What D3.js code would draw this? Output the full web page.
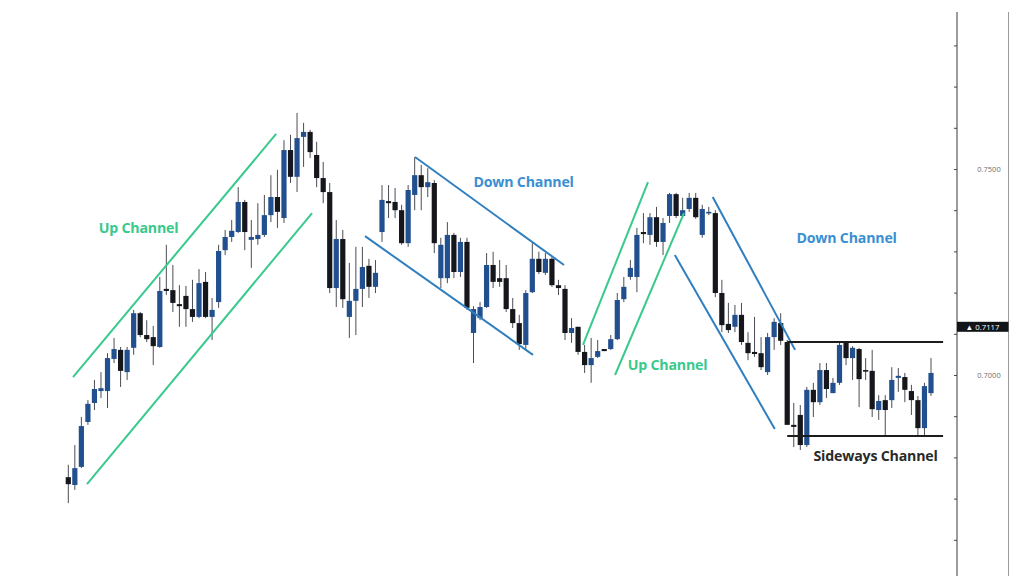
<!DOCTYPE html>
<html><head><meta charset="utf-8">
<script src="https://cdn.jsdelivr.net/npm/d3@7"></script>
<style>body{margin:0;background:#fff;}svg{display:block;}</style>
</head><body>
<svg id="chart" width="1024" height="576"></svg>
<script>
// ---- data (prices) ----
const opens = [.6752,.6733,.6777,.6886,.6932,.6961,.6961,.7039,.7061,.7007,.7066,.7150,.7097,.7092,.7068,.7209,.7206,.7172,.7192,.7160,.7141,.7226,.7141,.7177,.7303,.7335,.7347,.7420,.7328,.7330,.7340,.7388,.7432,.7381,.7546,.7481,.7578,.7590,.7534,.7478,.7444,.7211,.7330,.7141,.7180,.7209,.7265,.7214,.7347,.7422,.7420,.7400,.7320,.7437,.7485,.7456,.7466,.7235,.7235,.7340,.7250,.7323,.7102,.7138,.7165,.7267,.7235,.7235,.7160,.7126,.7073,.7201,.7282,.7248,.7282,.7218,.7209,.7102,.7117,.7056,.7024,.7044,.7063,.7063,.7087,.7184,.7238,.7238,.7347,.7340,.7383,.7323,.7386,.7439,.7386,.7403,.7430,.7340,.7393,.7393,.7199,.7124,.7117,.7146,.7078,.7056,.7053,.7007,.7092,.7126,.7080,.6879,.6903,.6830,.6964,.6934,.7012,.6956,.6981,.7078,.7041,.7063,.7012,.7010,.6915,.6939,.6939,.6993,.6995,.6961,.6939,.6871,.6956];
const highs = [.6782,.6830,.6898,.6939,.6988,.7007,.7053,.7090,.7068,.7068,.7158,.7153,.7133,.7119,.7238,.7316,.7267,.7218,.7216,.7231,.7257,.7250,.7187,.7316,.7352,.7376,.7456,.7425,.7376,.7417,.7437,.7485,.7498,.7570,.7583,.7636,.7612,.7595,.7566,.7517,.7466,.7376,.7352,.7272,.7311,.7311,.7282,.7279,.7461,.7461,.7454,.7413,.7461,.7529,.7510,.7502,.7473,.7333,.7371,.7345,.7333,.7333,.7167,.7177,.7296,.7299,.7279,.7267,.7187,.7146,.7206,.7320,.7299,.7296,.7286,.7231,.7218,.7138,.7117,.7073,.7090,.7085,.7063,.7097,.7199,.7238,.7279,.7357,.7393,.7393,.7408,.7381,.7442,.7442,.7430,.7442,.7442,.7413,.7408,.7400,.7231,.7175,.7170,.7175,.7104,.7141,.7092,.7102,.7138,.7150,.7085,.6932,.6927,.6971,.6981,.7029,.7029,.6993,.7080,.7080,.7070,.7066,.7041,.7061,.6951,.6951,.7019,.7017,.7005,.6976,.6949,.6981,.7041];
const lows = [.6689,.6721,.6774,.6879,.6915,.6944,.6920,.7029,.6971,.6988,.7049,.7092,.7080,.7024,.7066,.7194,.7153,.7117,.7117,.7129,.7138,.7138,.7085,.7163,.7291,.7323,.7345,.7303,.7260,.7316,.7335,.7371,.7357,.7369,.7466,.7444,.7505,.7527,.7456,.7417,.7199,.7165,.7163,.7090,.7097,.7165,.7187,.7199,.7323,.7381,.7381,.7316,.7311,.7400,.7400,.7432,.7296,.7211,.7223,.7235,.7238,.7158,.7029,.7133,.7163,.7211,.7214,.7153,.7114,.7061,.7061,.7199,.7245,.7243,.7214,.7194,.7085,.7078,.7049,.7005,.6981,.7041,.7058,.7061,.7085,.7177,.7231,.7201,.7320,.7316,.7311,.7291,.7369,.7381,.7381,.7396,.7379,.7333,.7388,.7189,.7104,.7102,.7104,.7073,.7036,.7044,.7012,.7000,.7061,.7073,.6879,.6825,.6818,.6825,.6898,.6927,.6944,.6956,.6976,.7024,.6988,.6922,.6988,.6898,.6891,.6854,.6920,.6959,.6934,.6903,.6854,.6854,.6949];
const closes = [.6735,.6774,.6876,.6930,.6966,.6968,.7041,.7063,.7010,.7061,.7150,.7097,.7087,.7070,.7204,.7204,.7175,.7167,.7160,.7141,.7223,.7141,.7158,.7301,.7335,.7350,.7420,.7347,.7335,.7340,.7388,.7432,.7396,.7546,.7481,.7575,.7590,.7541,.7478,.7444,.7211,.7330,.7184,.7180,.7209,.7262,.7214,.7248,.7425,.7417,.7400,.7320,.7449,.7485,.7456,.7468,.7320,.7316,.7340,.7250,.7323,.7163,.7160,.7165,.7267,.7226,.7226,.7160,.7126,.7075,.7199,.7282,.7250,.7282,.7218,.7211,.7102,.7114,.7056,.7024,.7041,.7058,.7058,.7087,.7182,.7214,.7260,.7340,.7342,.7383,.7323,.7369,.7439,.7386,.7400,.7430,.7383,.7403,.7396,.7199,.7121,.7109,.7146,.7080,.7053,.7051,.7019,.7092,.7129,.7083,.6879,.6874,.6830,.6964,.6934,.7012,.6966,.6981,.7073,.7041,.7066,.6990,.7010,.6917,.6937,.6915,.6988,.6998,.6964,.6939,.6871,.6973,.7005];

const tickValues = [0.66,0.67,0.68,0.69,0.70,0.71,0.72,0.73,0.74,0.75,0.76,0.77,0.78];
const labelValues = [0.70, 0.75];
const lastPrice = 0.7117;

// channel lines: [index1, price1, index2, price2]
const upChannelA   = [[0.72,0.6995,31.8,0.7585],[2.86,0.6735,37.3,0.7393]];
const downChannelA = [[53.05,0.7529,75.85,0.7267],[45.4,0.7337,71.1,0.7049]];
const upChannelB   = [[78.75,0.7073,88.7,0.7468],[83.66,0.7000,94.2,0.7393]];
const downChannelB = [[98.6,0.7432,111.2,0.7061],[92.8,0.7291,108.1,0.6869]];
const sideChannel  = [[110.0,0.7080,133.85,0.7080],[110.0,0.6852,133.85,0.6852]];

const labelTexts  = ["Up Channel","Down Channel","Up Channel","Down Channel","Sideways Channel"];
const labelIndex  = [10.74, 69.66, 91.69, 119.08, 123.52];
const labelPrice  = [0.7345, 0.7456, 0.7012, 0.7320, 0.6791];

// ---- drawing ----
const svg = d3.select("#chart");
const x = d3.scaleLinear().domain([0, opens.length - 1]).range([68.3, 931]);
const y = d3.scaleLinear().domain([0.70, 0.75]).range([375, 169]);

const BLUE = "#22508f", BLACK = "#15171c", WICK = "#4a4d53";
const GREEN = "#38c98c", LINEBLUE = "#2f7fc0", LABELBLUE = "#3a8fd3";

const candles = opens.map((o, i) => ({i, o, h: highs[i], l: lows[i], c: closes[i]}));

const g = svg.append("g");
g.selectAll("line.wick").data(candles).join("line")
  .attr("x1", d => x(d.i)).attr("x2", d => x(d.i))
  .attr("y1", d => y(d.h)).attr("y2", d => y(d.l))
  .attr("stroke", WICK).attr("stroke-width", 1);
g.selectAll("rect.body").data(candles).join("rect")
  .attr("x", d => x(d.i) - 2.6).attr("width", 5.2)
  .attr("y", d => y(Math.max(d.o, d.c)))
  .attr("height", d => Math.max(1.6, Math.abs(y(d.o) - y(d.c))))
  .attr("fill", d => d.c >= d.o ? BLUE : BLACK);

function drawLines(lines, color) {
  svg.append("g").selectAll("line").data(lines).join("line")
    .attr("x1", d => x(d[0])).attr("y1", d => y(d[1]))
    .attr("x2", d => x(d[2])).attr("y2", d => y(d[3]))
    .attr("stroke", color).attr("stroke-width", 2).attr("stroke-linecap", "butt");
}
drawLines(upChannelA, GREEN);
drawLines(downChannelA, LINEBLUE);
drawLines(upChannelB, GREEN);
drawLines(downChannelB, LINEBLUE);
drawLines(sideChannel, "#1c1c1c");

const labelColors = [GREEN, LABELBLUE, GREEN, LABELBLUE, "#2a2a2a"];
svg.append("g").selectAll("text").data(labelTexts).join("text")
  .attr("x", (d, i) => x(labelIndex[i])).attr("y", (d, i) => y(labelPrice[i]))
  .attr("text-anchor", "middle")
  .attr("font-family", "'Open Sans', sans-serif").attr("font-weight", 700)
  .attr("font-size", 14.2).attr("letter-spacing", -0.2)
  .attr("fill", (d, i) => labelColors[i])
  .text(d => d);

// ---- right price axis ----
const axisX = 957;
svg.append("line").attr("x1", axisX).attr("x2", axisX).attr("y1", 12).attr("y2", 576)
  .attr("stroke", "#3a3a3a").attr("stroke-width", 1);
svg.append("line").attr("x1", 1008.5).attr("x2", 1008.5).attr("y1", 12).attr("y2", 576)
  .attr("stroke", "#9a9a9a").attr("stroke-width", 1);

const tickAxis = d3.axisLeft(y).tickValues(tickValues).tickSize(3).tickFormat("");
const ta = svg.append("g").attr("transform", `translate(${axisX},0)`).call(tickAxis);
ta.select(".domain").remove();
ta.selectAll(".tick line").attr("stroke", "#444");

const labelAxis = d3.axisRight(y).tickValues(labelValues).tickSize(0).tickFormat(d3.format(".4f"));
const la = svg.append("g").attr("transform", `translate(${axisX},0)`).call(labelAxis);
la.select(".domain").remove();
la.selectAll(".tick text").attr("x", 32).attr("text-anchor", "middle")
  .attr("font-family", "'Open Sans', sans-serif").attr("font-size", 7.5).attr("fill", "#6f6f6f");

// last price tag
const py = y(lastPrice);
svg.append("rect").attr("x", axisX).attr("y", py - 5).attr("width", 1008.5 - axisX).attr("height", 10)
  .attr("fill", "#111418");
svg.append("text").attr("x", 982.5).attr("y", py + 2.8).attr("text-anchor", "middle")
  .attr("font-family", "'Open Sans', sans-serif").attr("font-size", 7.8).attr("fill", "#fff")
  .text("\u25B2 " + d3.format(".4f")(lastPrice));
</script>
</body></html>
